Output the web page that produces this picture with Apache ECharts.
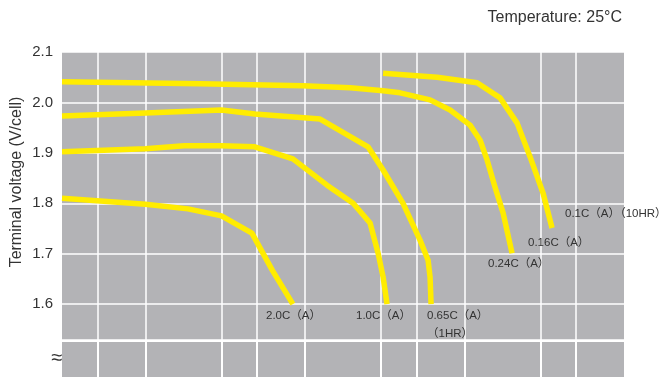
<!DOCTYPE html>
<html>
<head>
<meta charset="utf-8">
<script src="https://cdn.jsdelivr.net/npm/echarts@6/dist/echarts.min.js"></script>
<style>
  html, body { margin: 0; padding: 0; background: #ffffff; }
  #chart { width: 669px; height: 377px; }
</style>
</head>
<body>
<div id="chart"></div>
<script>
// ---- data (x: discharge time in minutes, log scale; y: terminal voltage V/cell) ----
const xGridMinutes = [10, 20, 60, 100, 200, 600, 1000, 2000, 6000, 10000];

const t_2_0C = [6, 20, 37, 60, 93, 125, 168];
const v_2_0C = [1.810, 1.798, 1.789, 1.775, 1.741, 1.667, 1.600];

const t_1_0C = [6, 20, 35, 60, 97, 168, 275, 401, 512, 575, 618, 654];
const v_1_0C = [1.902, 1.908, 1.914, 1.914, 1.912, 1.888, 1.836, 1.800, 1.761, 1.701, 1.654, 1.600];

const t_0_65C = [6, 20, 60, 97, 249, 497, 618, 824, 1053, 1183, 1217, 1235];
const v_0_65C = [1.973, 1.979, 1.985, 1.977, 1.967, 1.912, 1.866, 1.800, 1.727, 1.687, 1.654, 1.600];

const t_0_24C = [6, 44, 194, 384, 618, 789, 1217, 1625, 2168, 2506, 2772, 3110, 3492, 3976];
const v_0_24C = [2.041, 2.037, 2.033, 2.029, 2.023, 2.019, 2.005, 1.985, 1.955, 1.925, 1.886, 1.832, 1.781, 1.701];

const t_0_1C = [618, 1346, 2399, 3342, 4277, 5158, 6222, 7080];
const v_0_1C = [2.058, 2.050, 2.039, 2.009, 1.959, 1.892, 1.820, 1.751];

const curveNames = ['2.0C', '1.0C', '0.65C', '0.24C', '0.1C'];
const curveTimes = [t_2_0C, t_1_0C, t_0_65C, t_0_24C, t_0_1C];
const curveVolts = [v_2_0C, v_1_0C, v_0_65C, v_0_24C, v_0_1C];

const titleText = 'Temperature: 25°C';
const yAxisTitle = 'Terminal voltage (V/cell)';
const curveLabelTexts = ['2.0C（A）', '1.0C（A）', '0.65C（A）', '（1HR）', '0.24C（A）', '0.16C（A）', '0.1C（A）（10HR）'];

// ---- styling / layout ----
const GRAY = '#b3b3b6';
const YELLOW = '#ffec00';
const TEXT = '#333333';
const FONT = '"Liberation Sans", Arial, "Noto Sans CJK JP", sans-serif';

const chart = echarts.init(document.getElementById('chart'), null, { renderer: 'canvas' });

const lineSeries = curveNames.map((name, i) => ({
  name: name,
  type: 'line',
  xAxisIndex: 0,
  yAxisIndex: 0,
  data: curveTimes[i].map((t, k) => [t, curveVolts[i][k]]),
  showSymbol: false,
  symbol: 'none',
  smooth: false,
  lineStyle: { color: YELLOW, width: 5.5, cap: 'butt', join: 'round' },
  z: 3,
  animation: false,
  silent: true
}));

const gridLineSeries = (axisIdx, width) => ({
  type: 'line',
  xAxisIndex: axisIdx,
  yAxisIndex: axisIdx,
  data: [],
  silent: true,
  animation: false,
  markLine: {
    z: 1,
    silent: true,
    animation: false,
    symbol: ['none', 'none'],
    label: { show: false },
    lineStyle: { color: '#ffffff', width: width, type: 'solid' },
    data: xGridMinutes.map(v => ({ xAxis: v }))
  }
});

const labelPos = [
  [266, 316], [356, 316], [427, 316], [427, 334], [488, 264], [528, 243], [565, 214]
];

const graphics = [
  {
    type: 'text', x: 622, y: 18,
    style: { text: titleText, fill: '#333333', font: '16px ' + FONT, align: 'right', verticalAlign: 'middle' }
  },
  {
    type: 'text', x: 17, y: 182, rotation: Math.PI / 2,
    style: { text: yAxisTitle, fill: '#333333', font: '16px ' + FONT, align: 'center', verticalAlign: 'middle' }
  },
  {
    type: 'text', x: 57, y: 358,
    style: { text: '≈', fill: '#333333', font: '20px ' + FONT, align: 'center', verticalAlign: 'middle' }
  }
].concat(curveLabelTexts.map((txt, i) => ({
  type: 'text', x: labelPos[i][0], y: labelPos[i][1], z: 10,
  style: { text: txt, fill: TEXT, font: '11.5px ' + FONT, align: 'left', verticalAlign: 'middle' }
})));

const option = {
  backgroundColor: '#ffffff',
  animation: false,
  grid: [
    { left: 62, top: 52, width: 562, height: 288, show: true, backgroundColor: GRAY, borderWidth: 0, containLabel: false },
    { left: 62, top: 342, width: 562, height: 40, show: true, backgroundColor: GRAY, borderWidth: 0, containLabel: false }
  ],
  xAxis: [
    { type: 'log', gridIndex: 0, min: 6, max: 20000, logBase: 10,
      axisLine: { show: false }, axisTick: { show: false }, axisLabel: { show: false }, splitLine: { show: false } },
    { type: 'log', gridIndex: 1, min: 6, max: 20000, logBase: 10,
      axisLine: { show: false }, axisTick: { show: false }, axisLabel: { show: false }, splitLine: { show: false } }
  ],
  yAxis: [
    { type: 'value', gridIndex: 0, min: 1.529, max: 2.1,
      axisLine: { show: false }, axisTick: { show: false },
      axisLabel: {
        margin: 9, fontSize: 15, color: '#333333', fontFamily: FONT,
        formatter: function (v) {
          const r = Math.round(v * 10) / 10;
          return Math.abs(v - r) < 1e-6 ? r.toFixed(1) : '';
        }
      },
      splitLine: { show: true, lineStyle: { color: '#ffffff', width: 1.5 } } },
    { type: 'value', gridIndex: 1, min: 0, max: 1, show: false, splitLine: { show: false } }
  ],
  series: lineSeries.concat([gridLineSeries(0, 1.5), gridLineSeries(1, 2)]),
  graphic: graphics
};

chart.setOption(option);
</script>
</body>
</html>
